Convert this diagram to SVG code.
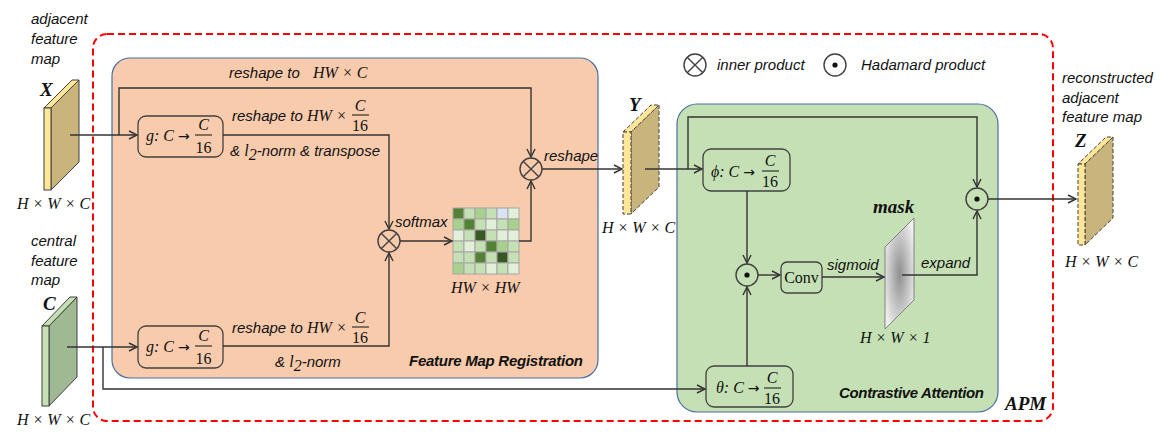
<svg xmlns="http://www.w3.org/2000/svg" width="1176" height="442" viewBox="0 0 1176 442">
<style>
.ln{fill:none;stroke:#333;stroke-width:1.4}
.op{fill:none;stroke:#404040;stroke-width:1.4}
.bx{stroke:#404040;stroke-width:1.3}
.lbl{font-family:"Liberation Sans",Arial,sans-serif;font-style:italic;font-size:15px;fill:#111}
.bl{font-family:"Liberation Sans",Arial,sans-serif;font-style:italic;font-weight:bold;font-size:15px;fill:#111}
.m{font-family:"Liberation Serif","DejaVu Serif",serif;font-style:italic;font-size:16px;fill:#111}
.mr{font-family:"Liberation Serif","DejaVu Serif",serif;font-size:16px;fill:#111}
.arw{font-family:"DejaVu Sans",sans-serif;font-style:normal;font-size:14px}
.big{font-family:"Liberation Serif","DejaVu Serif",serif;font-style:italic;font-weight:bold;font-size:19px;fill:#111}
.fb{stroke:#111;stroke-width:1}
.cell{stroke:#a6a6a6;stroke-width:1}
</style>
<defs>
<marker id="ar" markerUnits="userSpaceOnUse" markerWidth="12" markerHeight="12" refX="9" refY="5" orient="auto">
<path d="M1,1 L9,5 L1,9" fill="none" stroke="#333" stroke-width="1.4"/>
</marker>
<radialGradient id="mg" cx="0.5" cy="0.5" r="0.6">
<stop offset="0" stop-color="#8f8f8f"/>
<stop offset="1" stop-color="#f2f2f2"/>
</radialGradient>
</defs>

<rect x="93" y="34" width="960" height="387" rx="14" fill="none" stroke="#ff0000" stroke-width="2" stroke-dasharray="7,4"/>

<g id="fmr">
<rect x="112" y="58" width="486" height="320" rx="18" fill="#f8cbad" stroke="#4a6fa5" stroke-width="1.2"/>
<text class="bl" x="409" y="366" textLength="174">Feature Map Registration</text>
</g>
<g id="ca">
<rect x="677" y="104" width="321" height="308" rx="20" fill="#c5e0b4" stroke="#4a6fa5" stroke-width="1.2"/>
<text class="bl" x="839" y="398" textLength="145">Contrastive Attention</text>
</g>
<text class="big" x="1005" y="410">APM</text>

<g id="legend">
<circle class="op" cx="695" cy="65" r="11"/>
<path class="op" d="M687.2,57.2 L702.8,72.8 M702.8,57.2 L687.2,72.8"/>
<text class="lbl" x="717" y="70">inner product</text>
<circle class="op" cx="835" cy="65" r="11"/>
<circle cx="835" cy="65" r="2.6" fill="#111"/>
<text class="lbl" x="861" y="70">Hadamard product</text>
</g>

<g id="X">
<text class="lbl" x="31" y="24">adjacent</text>
<text class="lbl" x="31" y="44">feature</text>
<text class="lbl" x="31" y="64">map</text>
<text class="big" x="40" y="96">X</text>
<polygon points="79,80 79,162 51,190 51,108" fill="#c9b57b" stroke="#404040" stroke-width="1"/>
<polygon points="44,108 51,108 79,80 72,80" fill="#ffe699" stroke="#404040" stroke-width="1"/>
<rect x="44" y="108" width="7" height="82" fill="#ffe699" stroke="#404040" stroke-width="1"/>
<text class="m" x="17" y="209">H × W × C</text>
</g>

<g id="C">
<text class="lbl" x="31" y="246">central</text>
<text class="lbl" x="31" y="266">feature</text>
<text class="lbl" x="31" y="285">map</text>
<text class="big" x="43" y="310">C</text>
<polygon points="77,297 77,377 49,406 49,326" fill="#9fb993" stroke="#404040" stroke-width="1"/>
<polygon points="42,326 49,326 77,297 70,297" fill="#c5e0b4" stroke="#404040" stroke-width="1"/>
<rect x="42" y="326" width="7" height="80" fill="#c5e0b4" stroke="#404040" stroke-width="1"/>
<text class="m" x="17" y="425">H × W × C</text>
</g>

<g id="Y">
<text class="big" x="629" y="111">Y</text>
<polygon points="659,105 659,187 631,214 631,132" fill="#c9b57b" stroke="#404040" stroke-width="1" stroke-dasharray="4,2"/>
<polygon points="623,132 631,132 659,105 651,105" fill="#ffe699" stroke="#404040" stroke-width="1" stroke-dasharray="4,2"/>
<rect x="623" y="132" width="8" height="82" fill="#ffe699" stroke="#404040" stroke-width="1" stroke-dasharray="4,2"/>
<text class="m" x="602" y="233">H × W × C</text>
</g>

<g id="Z">
<text class="lbl" x="1062" y="83">reconstructed</text>
<text class="lbl" x="1062" y="103">adjacent</text>
<text class="lbl" x="1062" y="122">feature map</text>
<text class="big" x="1075" y="147" font-style="normal">Z</text>
<polygon points="1113,137 1113,218 1085,245 1085,164" fill="#c9b57b" stroke="#404040" stroke-width="1" stroke-dasharray="4,2"/>
<polygon points="1078,164 1085,164 1113,137 1106,137" fill="#ffe699" stroke="#404040" stroke-width="1" stroke-dasharray="4,2"/>
<rect x="1078" y="164" width="7" height="81" fill="#ffe699" stroke="#404040" stroke-width="1" stroke-dasharray="4,2"/>
<text class="m" x="1065" y="267">H × W × C</text>
</g>

<g id="g1">
<rect class="bx" x="138" y="116" width="85" height="41" rx="8" fill="#f8cbad"/>
<text class="m" x="146" y="141">g: C <tspan class="arw">→</tspan></text>
<text class="m" x="203.5" y="130" text-anchor="middle">C</text>
<line class="fb" x1="195" y1="135" x2="212" y2="135"/>
<text class="mr" x="203.5" y="153" text-anchor="middle">16</text>
</g>

<g id="g2">
<rect class="bx" x="138" y="326" width="85" height="42" rx="8" fill="#f8cbad"/>
<text class="m" x="146" y="352">g: C <tspan class="arw">→</tspan></text>
<text class="m" x="203.5" y="341" text-anchor="middle">C</text>
<line class="fb" x1="195" y1="346" x2="212" y2="346"/>
<text class="mr" x="203.5" y="364" text-anchor="middle">16</text>
</g>

<g id="phi">
<rect class="bx" x="703" y="149" width="87" height="42" rx="8" fill="#c5e0b4"/>
<text class="m" x="711" y="177">ϕ: C <tspan class="arw">→</tspan></text>
<text class="m" x="770" y="166" text-anchor="middle">C</text>
<line class="fb" x1="762" y1="171" x2="779" y2="171"/>
<text class="mr" x="770" y="187" text-anchor="middle">16</text>
</g>

<g id="theta">
<rect class="bx" x="706" y="366" width="87" height="41" rx="8" fill="#c5e0b4"/>
<text class="m" x="716" y="393">θ: C <tspan class="arw">→</tspan></text>
<text class="m" x="772" y="383" text-anchor="middle">C</text>
<line class="fb" x1="764" y1="388" x2="781" y2="388"/>
<text class="mr" x="772" y="404" text-anchor="middle">16</text>
</g>

<g id="conv">
<rect class="bx" x="781" y="262" width="41" height="31" rx="6" fill="#c5e0b4"/>
<text class="mr" x="801.5" y="283" text-anchor="middle">Conv</text>
</g>

<g id="mask">
<text class="big" x="873" y="213" font-size="17">mask</text>
<polygon points="885,247 914,218 914,300 885,329" fill="url(#mg)" stroke="#808080" stroke-width="1"/>
<text class="m" x="860" y="343">H × W × 1</text>
</g>

<g id="matrix">
<rect class="cell" x="453" y="208" width="11" height="11" fill="#548235"/>
<rect class="cell" x="464" y="208" width="11" height="11" fill="#c5e0b4"/>
<rect class="cell" x="475" y="208" width="11" height="11" fill="#a9d18e"/>
<rect class="cell" x="486" y="208" width="11" height="11" fill="#c5e0b4"/>
<rect class="cell" x="497" y="208" width="11" height="11" fill="#dae3f3"/>
<rect class="cell" x="508" y="208" width="11" height="11" fill="#e2f0d9"/>
<rect class="cell" x="453" y="219" width="11" height="11" fill="#a9d18e"/>
<rect class="cell" x="464" y="219" width="11" height="11" fill="#548235"/>
<rect class="cell" x="475" y="219" width="11" height="11" fill="#c5e0b4"/>
<rect class="cell" x="486" y="219" width="11" height="11" fill="#e2f0d9"/>
<rect class="cell" x="497" y="219" width="11" height="11" fill="#c5e0b4"/>
<rect class="cell" x="508" y="219" width="11" height="11" fill="#a9d18e"/>
<rect class="cell" x="453" y="230" width="11" height="11" fill="#e2f0d9"/>
<rect class="cell" x="464" y="230" width="11" height="11" fill="#c5e0b4"/>
<rect class="cell" x="475" y="230" width="11" height="11" fill="#385723"/>
<rect class="cell" x="486" y="230" width="11" height="11" fill="#c5e0b4"/>
<rect class="cell" x="497" y="230" width="11" height="11" fill="#e2f0d9"/>
<rect class="cell" x="508" y="230" width="11" height="11" fill="#e2f0d9"/>
<rect class="cell" x="453" y="241" width="11" height="11" fill="#c5e0b4"/>
<rect class="cell" x="464" y="241" width="11" height="11" fill="#e2f0d9"/>
<rect class="cell" x="475" y="241" width="11" height="11" fill="#c5e0b4"/>
<rect class="cell" x="486" y="241" width="11" height="11" fill="#548235"/>
<rect class="cell" x="497" y="241" width="11" height="11" fill="#a9d18e"/>
<rect class="cell" x="508" y="241" width="11" height="11" fill="#c5e0b4"/>
<rect class="cell" x="453" y="252" width="11" height="11" fill="#c5e0b4"/>
<rect class="cell" x="464" y="252" width="11" height="11" fill="#c5e0b4"/>
<rect class="cell" x="475" y="252" width="11" height="11" fill="#548235"/>
<rect class="cell" x="486" y="252" width="11" height="11" fill="#c5e0b4"/>
<rect class="cell" x="497" y="252" width="11" height="11" fill="#385723"/>
<rect class="cell" x="508" y="252" width="11" height="11" fill="#c5e0b4"/>
<rect class="cell" x="453" y="263" width="11" height="11" fill="#a9d18e"/>
<rect class="cell" x="464" y="263" width="11" height="11" fill="#c5e0b4"/>
<rect class="cell" x="475" y="263" width="11" height="11" fill="#c5e0b4"/>
<rect class="cell" x="486" y="263" width="11" height="11" fill="#e2f0d9"/>
<rect class="cell" x="497" y="263" width="11" height="11" fill="#c5e0b4"/>
<rect class="cell" x="508" y="263" width="11" height="11" fill="#e2f0d9"/>
<text class="m" x="451" y="293">HW × HW</text>
</g>

<g id="ops">
<circle class="op" cx="389" cy="241" r="11"/>
<path class="op" d="M381.2,233.2 L396.8,248.8 M396.8,233.2 L381.2,248.8"/>
<circle class="op" cx="531" cy="169" r="11"/>
<path class="op" d="M523.2,161.2 L538.8,176.8 M538.8,161.2 L523.2,176.8"/>
<circle class="op" cx="747" cy="275" r="11"/>
<circle cx="747" cy="275" r="2.6" fill="#111"/>
<circle class="op" cx="977" cy="199" r="11"/>
<circle cx="977" cy="199" r="2.6" fill="#111"/>
</g>

<g id="connectors">
<path class="ln" d="M70,135 H137" marker-end="url(#ar)"/>
<path class="ln" d="M119,135 V88 H531 V157" marker-end="url(#ar)"/>
<path class="ln" d="M223,135 H389 V229" marker-end="url(#ar)"/>
<path class="ln" d="M67,347 H137" marker-end="url(#ar)"/>
<path class="ln" d="M223,346 H389 V253" marker-end="url(#ar)"/>
<path class="ln" d="M103,347 V389 H705" marker-end="url(#ar)"/>
<path class="ln" d="M400,241 H452" marker-end="url(#ar)"/>
<path class="ln" d="M519,241 H531 V181" marker-end="url(#ar)"/>
<path class="ln" d="M542,169 H622" marker-end="url(#ar)"/>
<path class="ln" d="M645,169 H702" marker-end="url(#ar)"/>
<path class="ln" d="M688,169 V117 H977 V187" marker-end="url(#ar)"/>
<path class="ln" d="M747,191 V263" marker-end="url(#ar)"/>
<path class="ln" d="M747,366 V287" marker-end="url(#ar)"/>
<path class="ln" d="M758,275 H780" marker-end="url(#ar)"/>
<path class="ln" d="M822,277 H884" marker-end="url(#ar)"/>
<path class="ln" d="M902,275 H977 V211" marker-end="url(#ar)"/>
<path class="ln" d="M988,199 H1076" marker-end="url(#ar)"/>
</g>

<g id="labels">
<text class="lbl" x="229" y="78">reshape to</text>
<text class="m" x="313" y="78">HW × C</text>
<text class="lbl" x="232" y="121">reshape to</text>
<text class="m" x="307" y="121">HW ×</text>
<text class="m" x="360" y="111" text-anchor="middle">C</text>
<line class="fb" x1="352" y1="115" x2="369" y2="115"/>
<text class="mr" x="360" y="131" text-anchor="middle">16</text>
<text class="lbl" x="230" y="156">&amp; <tspan class="m" font-size="16px">l</tspan><tspan class="mr" font-size="11px" dy="4">2</tspan><tspan dy="-4">-norm &amp; transpose</tspan></text>
<text class="lbl" x="232" y="333">reshape to</text>
<text class="m" x="307" y="333">HW ×</text>
<text class="m" x="360" y="323" text-anchor="middle">C</text>
<line class="fb" x1="352" y1="327" x2="369" y2="327"/>
<text class="mr" x="360" y="343" text-anchor="middle">16</text>
<text class="lbl" x="275" y="367">&amp; <tspan class="m" font-size="16px">l</tspan><tspan class="mr" font-size="11px" dy="4">2</tspan><tspan dy="-4">-norm</tspan></text>
<text class="lbl" x="395" y="227">softmax</text>
<text class="lbl" x="544" y="161">reshape</text>
<text class="lbl" x="827" y="270">sigmoid</text>
<text class="lbl" x="921" y="268">expand</text>
</g>
</svg>
